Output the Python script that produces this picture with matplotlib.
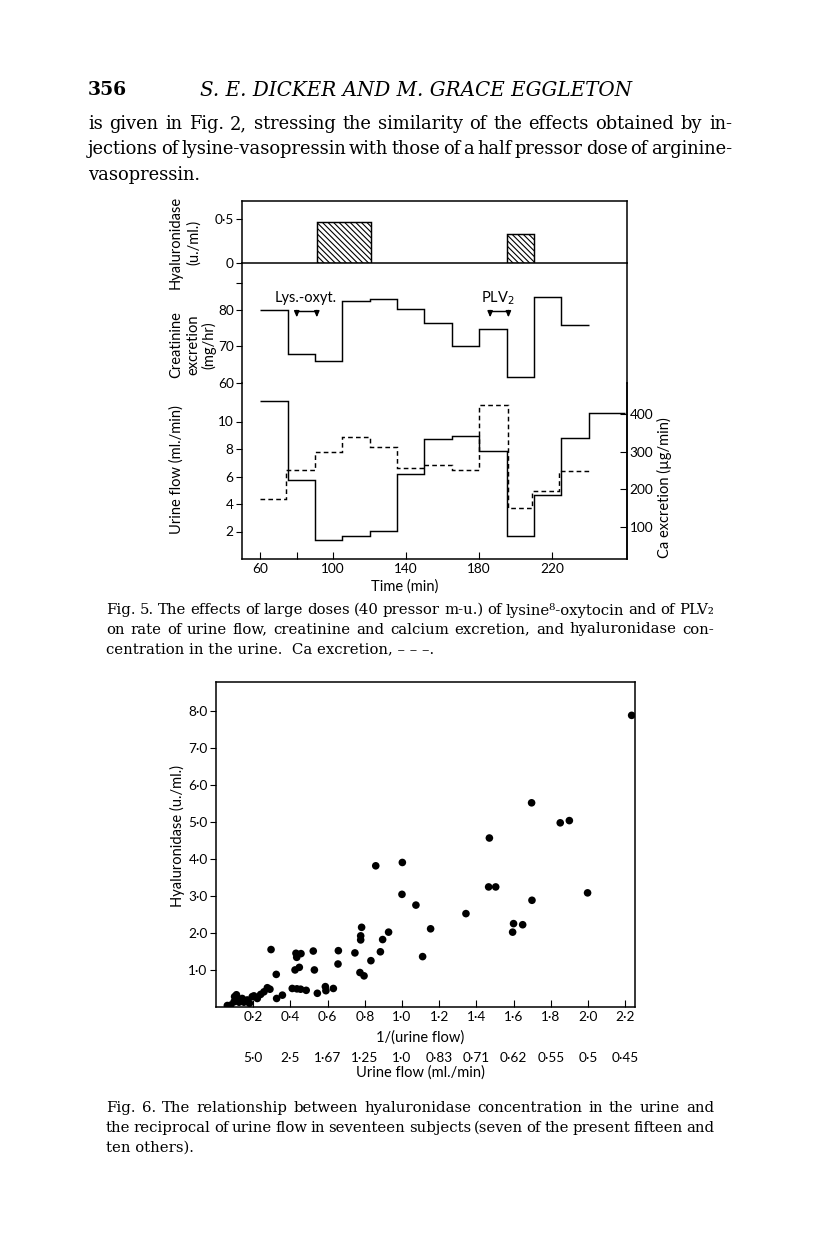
import matplotlib
matplotlib.use("Agg")
import matplotlib.pyplot as plt

# ---------------- data: Fig. 5 ----------------
time_ticks = [60, 80, 100, 140, 180, 220]
time_tick_labels = ["60", "", "100", "140", "180", "220"]

urine_edges = [60, 75, 90, 105, 120, 135, 150, 165, 180, 195, 210, 225, 240, 260]
urine_flow = [11.5, 5.75, 1.38, 1.7, 2.06, 6.16, 8.73, 8.95, 7.88, 1.7, 4.65, 8.78, 10.64]

ca_edges = [60, 74, 90, 105, 120, 135, 149, 165, 180, 196, 209, 224, 240]
ca_excretion = [173, 250, 298, 338, 311, 257, 265, 252, 423, 151, 196, 249]

creat_edges = [60, 75, 90, 105, 120, 135, 150, 165, 180, 195, 210, 225, 240]
creatinine = [80, 67.8, 66.0, 82.4, 83.1, 80.4, 76.5, 70.0, 74.9, 61.5, 83.5, 75.8]

hyal_start = [91, 195]
hyal_end = [120.5, 210]
hyal_value = [0.463, 0.326]

lys_injection = (80, 91)
plv_injection = (186, 196)

# ---------------- data: Fig. 6 ----------------
inv_flow = [2.235, 0.859, 1.002, 1.47, 1.697, 1.851, 1.90, 1.0, 1.075, 1.466, 1.504,
            1.998, 1.699, 1.344, 1.154, 1.111, 1.595, 1.600, 1.649,
            0.296, 0.430, 0.434, 0.457, 0.523, 0.658, 0.747, 0.783, 0.778, 0.778,
            0.896, 0.928, 0.884, 0.833, 0.656, 0.529, 0.448, 0.425, 0.774, 0.796, 0.324,
            0.41, 0.435, 0.455, 0.485, 0.545, 0.588, 0.591, 0.631, 0.326, 0.357,
            0.276, 0.29, 0.258, 0.24, 0.204, 0.222, 0.195, 0.168, 0.141, 0.115, 0.097,
            0.079, 0.061, 0.124, 0.15, 0.18, 0.10, 0.11]
hyal_conc = [7.87, 3.81, 3.90, 4.56, 5.51, 4.97, 5.03, 3.04, 2.75, 3.24, 3.24,
             3.08, 2.88, 2.52, 2.11, 1.36, 2.02, 2.25, 2.22,
             1.55, 1.45, 1.34, 1.44, 1.51, 1.52, 1.46, 2.15, 1.92, 1.81,
             1.82, 2.02, 1.49, 1.25, 1.16, 1.00, 1.07, 1.00, 0.93, 0.84, 0.88,
             0.50, 0.49, 0.48, 0.45, 0.37, 0.55, 0.44, 0.50, 0.23, 0.32,
             0.52, 0.48, 0.41, 0.34, 0.30, 0.23, 0.28, 0.19, 0.23, 0.23, 0.14,
             0.05, 0.04, 0.13, 0.13, 0.10, 0.28, 0.33]
x6_ticks = [0.2, 0.4, 0.6, 0.8, 1.0, 1.2, 1.4, 1.6, 1.8, 2.0, 2.2]
x6_labels = ["0·2", "0·4", "0·6", "0·8", "1·0", "1·2", "1·4", "1·6", "1·8", "2·0", "2·2"]
flow_labels = ["5·0", "2·5", "1·67", "1·25", "1·0", "0·83", "0·71", "0·62", "0·55", "0·5", "0·45"]
y6_ticks = [1, 2, 3, 4, 5, 6, 7, 8]
y6_labels = ["1·0", "2·0", "3·0", "4·0", "5·0", "6·0", "7·0", "8·0"]

# ---------------- figure ----------------
W, H = 816, 1249
fig = plt.figure(figsize=(W / 100, H / 100), dpi=100)
fig.patch.set_facecolor("white")

SANS = ["Lato", "DejaVu Sans"]
SERIF = ["DejaVu Serif"]
plt.rcParams["font.family"] = SANS
plt.rcParams["axes.linewidth"] = 1.1
plt.rcParams["hatch.linewidth"] = 0.8


def fx(px):
    return px / W


def fy(py):
    return 1 - py / H


def box(l, t, r, b):
    return [fx(l), fy(b), fx(r) - fx(l), fy(t) - fy(b)]


renderer = fig.canvas.get_renderer()


def justified(x0, x1, y, text, justify=True, **kw):
    if not justify:
        fig.text(fx(x0), fy(y), text, va="center", **kw)
        return
    words = text.split(" ")
    arts, widths = [], []
    for w in words:
        t = fig.text(0, fy(y), w, va="center", **kw)
        arts.append(t)
        widths.append(t.get_window_extent(renderer).width)
    gap = (x1 - x0 - sum(widths)) / max(len(words) - 1, 1)
    pos = x0
    for t, wd in zip(arts, widths):
        t.set_x(fx(pos))
        pos += wd + gap


# page text
fig.text(fx(88), fy(90), "356", family=SERIF, fontsize=13.5, weight="bold", va="center")
fig.text(fx(200), fy(90), "S. E. DICKER AND M. GRACE EGGLETON", family=SERIF,
         fontsize=14.3, style="italic", va="center")
para = ["is given in Fig. 2, stressing the similarity of the effects obtained by in-",
        "jections of lysine-vasopressin with those of a half pressor dose of arginine-",
        "vasopressin."]
for i, line in enumerate(para):
    justified(88, 732, 124 + i * 25.5, line, justify=i < 2, family=SERIF, fontsize=12.85)

cap5 = ["Fig. 5. The effects of large doses (40 pressor m-u.) of lysine⁸-oxytocin and of PLV₂",
        "on rate of urine flow, creatinine and calcium excretion, and hyaluronidase con-",
        "centration in the urine.  Ca excretion, – – –."]
for i, line in enumerate(cap5):
    justified(106, 714, 610 + i * 19.5, line, justify=i < 2, family=SERIF, fontsize=10.75)

cap6 = ["Fig. 6. The relationship between hyaluronidase concentration in the urine and",
        "the reciprocal of urine flow in seventeen subjects (seven of the present fifteen and",
        "ten others)."]
for i, line in enumerate(cap6):
    justified(106, 714, 1108 + i * 20, line, justify=i < 2, family=SERIF, fontsize=10.75)

# ---------------- Fig. 5 axes ----------------
L, R = 242, 627
ax_h = fig.add_axes(box(L, 201, R, 263))
ax_c = fig.add_axes(box(L, 263, R, 383))
ax_u = fig.add_axes(box(L, 383, R, 559))
ax_ca = ax_u.twinx()

xlim5 = (50, 261)
for a in (ax_h, ax_c, ax_u, ax_ca):
    a.set_xlim(*xlim5)
    a.set_facecolor("none")

lw = 1.05
TS = 9.8
ytick_kw = dict(axis="y", direction="out", length=4.5, labelsize=TS, pad=1.5)

# Hyaluronidase bars
ax_h.bar(hyal_start, hyal_value, width=[e - s for s, e in zip(hyal_start, hyal_end)],
         align="edge", facecolor="white", edgecolor="black", hatch="\\" * 6, linewidth=lw)
ax_h.set_ylim(0, 0.703)
ax_h.set_xticks([])
ax_h.set_yticks([0, 0.5])
ax_h.set_yticklabels(["0", "0·5"])
ax_h.tick_params(**ytick_kw)

# Creatinine
ax_c.stairs(creatinine, creat_edges, baseline=None, color="black", linewidth=lw)
ax_c.set_ylim(59.9, 93)
ax_c.set_xticks([])
ax_c.set_yticks([60, 70, 80, 87.6])
ax_c.set_yticklabels(["60", "70", "80", ""])
ax_c.tick_params(**ytick_kw)
ax_c.spines["top"].set_visible(False)
ax_c.spines["bottom"].set_visible(False)

for (t0, t1), lab, lx in ((lys_injection, "Lys.-oxyt.", 306), (plv_injection, "PLV$_2$", 498)):
    ax_c.plot([t0, t1], [79.8, 79.8], color="black", linewidth=lw)
    for t in (t0, t1):
        ax_c.annotate("", xy=(t, 78.0), xytext=(t, 79.9),
                      arrowprops=dict(arrowstyle="-|>,head_length=0.35,head_width=0.15",
                                      color="black", lw=lw, shrinkA=0, shrinkB=0))
    fig.text(fx(lx), fy(298), lab, fontsize=10.5, ha="center", va="center")

# Urine flow and Ca
ax_u.stairs(urine_flow, urine_edges, baseline=None, color="black", linewidth=lw)
ax_u.set_ylim(0, 12.8)
ax_u.set_yticks([2, 4, 6, 8, 10])
ax_u.tick_params(**ytick_kw)
ax_u.set_xticks(time_ticks)
ax_u.set_xticklabels(time_tick_labels)
ax_u.tick_params(axis="x", direction="in", length=5, labelsize=TS, pad=3)
ax_u.spines["top"].set_visible(False)

ax_ca.stairs(ca_excretion, ca_edges, baseline=None, color="black", linewidth=lw,
             linestyle=(0, (3.2, 2.2)))
ax_ca.set_ylim(15, 482)
ax_ca.set_yticks([100, 200, 300, 400])
ax_ca.tick_params(axis="y", direction="in", length=5, labelsize=TS, pad=2)
ax_ca.spines["top"].set_visible(False)
ax_ca.spines["left"].set_visible(False)
ax_ca.spines["bottom"].set_visible(False)

fig.text(fx(405), fy(587), "Time (min)", fontsize=10.5, ha="center", va="center")
fig.text(fx(176), fy(242), "Hyaluronidase", fontsize=10.5, rotation=90, ha="center", va="center")
fig.text(fx(194), fy(242), "(u./ml.)", fontsize=10.5, rotation=90, ha="center", va="center")
fig.text(fx(176), fy(345), "Creatinine", fontsize=10.5, rotation=90, ha="center", va="center")
fig.text(fx(193), fy(345), "excretion", fontsize=10.5, rotation=90, ha="center", va="center")
fig.text(fx(209), fy(345), "(mg/hr)", fontsize=10.5, rotation=90, ha="center", va="center")
fig.text(fx(177), fy(470), "Urine flow (ml./min)", fontsize=10.5, rotation=90, ha="center", va="center")
fig.text(fx(664), fy(488), "Ca excretion (µg/min)", fontsize=10.5, rotation=90, ha="center", va="center")

# ---------------- Fig. 6 ----------------
ax6 = fig.add_axes(box(216, 682, 635, 1007))
ax6.scatter(inv_flow, hyal_conc, s=30, color="black", edgecolors="none", zorder=3)
ax6.set_xlim(0, 2.253)
ax6.set_ylim(0, 8.77)
ax6.set_xticks(x6_ticks)
ax6.set_xticklabels(x6_labels)
ax6.set_yticks(y6_ticks)
ax6.set_yticklabels(y6_labels)
ax6.tick_params(axis="x", direction="in", length=5, labelsize=TS, pad=3)
ax6.tick_params(axis="y", direction="out", length=4.5, labelsize=TS, pad=1.5)

sec = ax6.secondary_xaxis(-(1049 - 1007) / 325)
sec.set_xticks(x6_ticks)
sec.set_xticklabels(flow_labels)
sec.tick_params(length=0, labelsize=TS, pad=2)
sec.spines["bottom"].set_visible(False)

fig.text(fx(420), fy(1038), "1/(urine flow)", fontsize=10.5, ha="center", va="center")
fig.text(fx(420), fy(1073), "Urine flow (ml./min)", fontsize=10.5, ha="center", va="center")
fig.text(fx(177), fy(836), "Hyaluronidase (u./ml.)", fontsize=10.5, rotation=90,
         ha="center", va="center")

fig.savefig("out.png", dpi=100, facecolor="white")
